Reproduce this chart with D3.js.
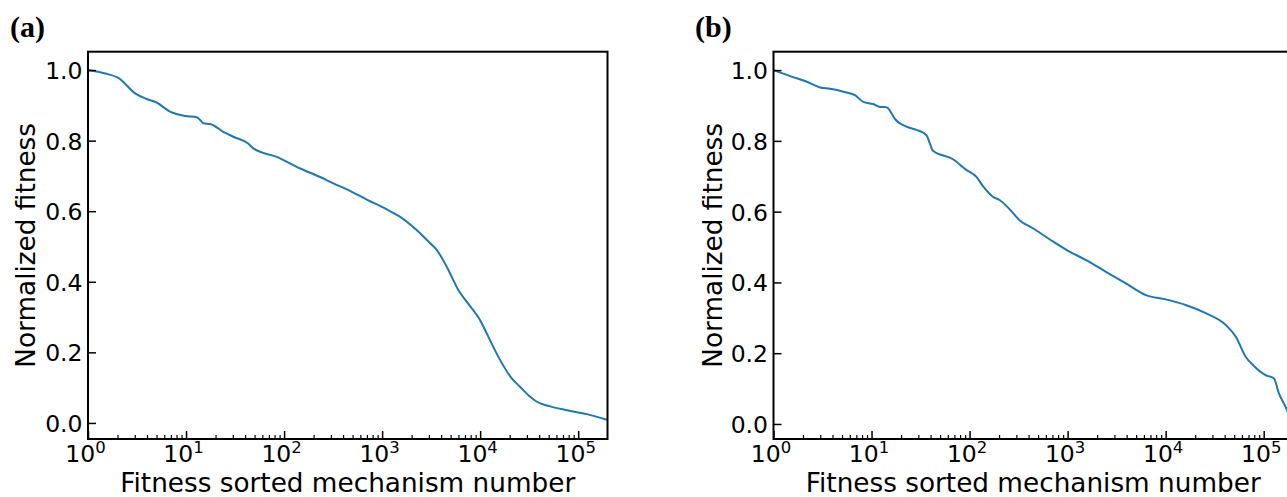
<!DOCTYPE html>
<html>
<head>
<meta charset="utf-8">
<script src="https://cdn.jsdelivr.net/npm/d3@7"></script>
<style>
  html, body { margin: 0; padding: 0; background: #fff; overflow: hidden; }
  svg { display: block; }
  text { font-family: "DejaVu Sans", sans-serif; fill: #000; }
</style>
</head>
<body>
<svg id="fig" width="1287" height="497"></svg>
<script>
// Panel (a): rank of mechanism (sorted by fitness) and its normalized fitness
const rankA = [1, 1.5, 2.04, 3.02, 3.97, 5.02, 6.87, 9.77, 12.9, 14, 15, 17.6, 24, 30.4, 43, 48.6,
  84, 146, 233, 318, 436, 698, 1117, 1527, 2262, 3091, 3614, 4573, 6011, 7311, 10000, 11700,
  16000, 21000, 25600, 32400, 37800, 51800, 76600, 122700, 196000];
const fitnessA = [1.0, 0.99, 0.978, 0.934, 0.918, 0.908, 0.882, 0.870, 0.866, 0.858, 0.849, 0.847,
  0.825, 0.811, 0.792, 0.778, 0.754, 0.721, 0.697, 0.679, 0.662, 0.633, 0.605, 0.584, 0.546,
  0.509, 0.490, 0.442, 0.376, 0.343, 0.291, 0.253, 0.178, 0.126, 0.102, 0.074, 0.060, 0.047,
  0.036, 0.025, 0.009];

// Panel (b)
const rankB = [1, 1.48, 2.19, 2.99, 3.78, 5.16, 6.78, 8.24, 10.4, 12.2, 14.2, 16, 17.3, 22.7, 28.8,
  36.3, 39.3, 42.4, 67.8, 92.7, 117, 137, 173, 202, 256, 323, 442, 654, 1000, 1542, 2460, 3933,
  6281, 10040, 16040, 25640, 40930, 51760, 65440, 79500, 104500, 126900, 142600, 166800, 196000];
const fitnessB = [1.0, 0.983, 0.967, 0.951, 0.947, 0.939, 0.929, 0.910, 0.904, 0.896, 0.895, 0.878,
  0.862, 0.840, 0.831, 0.816, 0.793, 0.772, 0.748, 0.718, 0.699, 0.672, 0.642, 0.633, 0.607,
  0.576, 0.553, 0.522, 0.490, 0.463, 0.430, 0.397, 0.364, 0.352, 0.336, 0.313, 0.280, 0.247,
  0.190, 0.164, 0.138, 0.129, 0.087, 0.049, 0.004];

// Tick definitions
const yTicks = [0.0, 0.2, 0.4, 0.6, 0.8, 1.0];
const xExponents = [0, 1, 2, 3, 4, 5];
const panelLetters = ["(a)", "(b)"];
const xLabel = "Fitness sorted mechanism number";
const yLabel = "Normalized fitness";

const svg = d3.select("#fig");
const lineColor = "#1f77b4";

const panels = [
  { letter: panelLetters[0], rank: rankA, fit: fitnessA, left: 88, right: 607.5,
    yDomain: [-0.0455, 1.052], letterX: 10, yLabelX: 34.5 },
  { letter: panelLetters[1], rank: rankB, fit: fitnessB, left: 773.5, right: 1293,
    yDomain: [-0.0425, 1.052], letterX: 695, yLabelX: 722 }
];
const plotTop = 51.7, plotBottom = 439;

panels.forEach(p => {
  const w = p.right - p.left, h = plotBottom - plotTop;
  const g = svg.append("g").attr("transform", `translate(${p.left},${plotTop})`);

  const x = d3.scaleLog().domain([1, 199000]).range([0, w]);
  const y = d3.scaleLinear().domain(p.yDomain).range([h, 0]);

  // clip for the curve
  const clipId = "clip" + p.letter.replace(/\W/g, "");
  g.append("clipPath").attr("id", clipId)
    .append("rect").attr("width", w).attr("height", h);

  // curve
  const pts = p.rank.map((r, i) => [r, p.fit[i]]);
  g.append("path")
    .datum(pts)
    .attr("clip-path", `url(#${clipId})`)
    .attr("fill", "none")
    .attr("stroke", lineColor)
    .attr("stroke-width", 2)
    .attr("stroke-linejoin", "round")
    .attr("d", d3.line().curve(d3.curveMonotoneX).x(d => x(d[0])).y(d => y(d[1])));

  // y axis: inward ticks
  const yAxis = d3.axisLeft(y).tickValues(yTicks).tickFormat(d3.format(".1f"))
    .tickSizeInner(-8).tickSizeOuter(0).tickPadding(5.5);
  const ya = g.append("g").call(yAxis);
  ya.select(".domain").remove();
  ya.selectAll(".tick line").attr("stroke", "#000").attr("stroke-width", 1.5);
  ya.selectAll(".tick text").attr("font-size", 23.5).attr("font-family", "DejaVu Sans")
    .attr("fill", "#000").attr("dy", "0.36em");

  // x axis minor ticks (2..9 per decade)
  const minor = [];
  for (let e = 0; e <= 5; e++) for (let m = 2; m <= 9; m++) {
    const v = m * Math.pow(10, e);
    if (v <= 199000) minor.push(v);
  }
  const xMinor = g.append("g").attr("transform", `translate(0,${h})`)
    .call(d3.axisBottom(x).tickValues(minor).tickFormat("").tickSizeInner(-4).tickSizeOuter(0));
  xMinor.select(".domain").remove();
  xMinor.selectAll(".tick line").attr("stroke", "#000").attr("stroke-width", 1.2);

  // x axis major ticks
  const majors = xExponents.map(e => Math.pow(10, e));
  const xMajor = g.append("g").attr("transform", `translate(0,${h})`)
    .call(d3.axisBottom(x).tickValues(majors).tickFormat("").tickSizeInner(-8).tickSizeOuter(0));
  xMajor.select(".domain").remove();
  xMajor.selectAll(".tick line").attr("stroke", "#000").attr("stroke-width", 1.5);

  // x tick labels as 10^e
  xExponents.forEach(e => {
    const t = g.append("text")
      .attr("x", x(Math.pow(10, e)) - 2.5)
      .attr("y", h + 22.7)
      .attr("text-anchor", "middle")
      .attr("font-size", 23.5);
    t.append("tspan").text("10");
    t.append("tspan").attr("font-size", 16.5).attr("dy", -8.3).text(String(e));
  });

  // frame
  g.append("rect").attr("width", w).attr("height", h)
    .attr("fill", "none").attr("stroke", "#000").attr("stroke-width", 2);

  // axis labels
  g.append("text")
    .attr("x", w / 2).attr("y", 492 - plotTop)
    .attr("text-anchor", "middle").attr("font-size", 26.3)
    .text(xLabel);
  svg.append("text")
    .attr("transform", `translate(${p.yLabelX},${plotTop + h / 2}) rotate(-90)`)
    .attr("text-anchor", "middle").attr("font-size", 26.3)
    .text(yLabel);

  // panel letter
  svg.append("text")
    .attr("x", p.letterX).attr("y", 36.5)
    .style("font-family", "'Liberation Serif', 'Times New Roman', serif")
    .attr("font-weight", "bold").attr("font-size", 30)
    .text(p.letter);
});
</script>
</body>
</html>
